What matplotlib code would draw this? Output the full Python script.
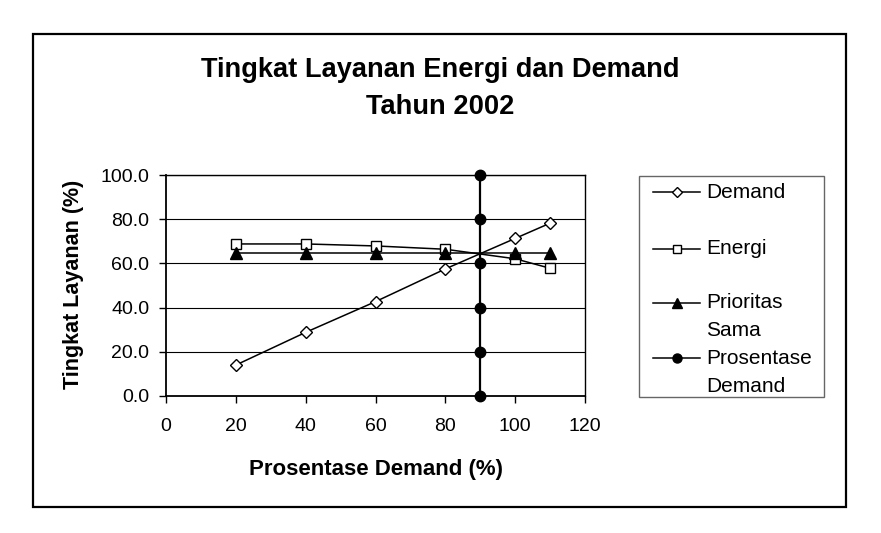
import matplotlib
matplotlib.use("Agg")
import matplotlib.pyplot as plt
from matplotlib.patches import Rectangle
from matplotlib.lines import Line2D

plt.rcParams['font.family'] = ['Liberation Sans', 'DejaVu Sans']

x_demand = [20, 40, 60, 80, 100, 110]
demand = [14.0, 28.8, 42.7, 57.5, 71.3, 78.2]
energi = [68.8, 68.8, 67.9, 66.4, 62.1, 57.8]
prioritas = [64.6, 64.6, 64.6, 64.6, 64.6, 64.6]
x_pros = [90, 90, 90, 90, 90, 90]
pros = [0, 20, 40, 60, 80, 100]

labels = ["Demand", "Energi", "Prioritas\nSama", "Prosentase\nDemand"]
title_lines = ["Tingkat Layanan Energi dan Demand", "Tahun 2002"]
xlabel = "Prosentase Demand (%)"
ylabel = "Tingkat Layanan (%)"
xticks = [0, 20, 40, 60, 80, 100, 120]
yticks = [0, 20, 40, 60, 80, 100]

W, H = 881, 533
fig = plt.figure(figsize=(W / 100, H / 100), dpi=100)
ax = fig.add_axes([166 / W, (H - 396) / H, (585 - 166) / W, (396 - 175) / H])

def fy(py):
    return (H - py) / H

def fx(px):
    return px / W

for yv in yticks[1:]:
    ax.axhline(yv, color='black', lw=0.8, zorder=1)

styles = [
    dict(marker='D', ms=6, mfc='white', mec='black', mew=1.0, lw=1.1),
    dict(marker='s', ms=7.5, mfc='white', mec='black', mew=1.0, lw=1.1),
    dict(marker='^', ms=8, mfc='black', mec='black', lw=1.1),
    dict(marker='o', ms=7.5, mfc='black', mec='black', lw=1.6),
]

ax.plot(x_demand, demand, color='black', zorder=3, **styles[0])
ax.plot(x_demand, energi, color='black', zorder=3, **styles[1])
ax.plot(x_demand, prioritas, color='black', zorder=3, **styles[2])
ax.plot(x_pros, pros, color='black', zorder=4, clip_on=False, **styles[3])

ax.set_xlim(0, 120)
ax.set_ylim(0, 100)
ax.set_xticks(xticks)
ax.set_yticks(yticks)
ax.set_yticklabels([f"{v:.1f}" for v in yticks])
ax.tick_params(axis='x', direction='out', length=5, width=1, pad=11, labelsize=14)
ax.tick_params(axis='y', direction='out', length=5, width=1, pad=7, labelsize=14)
for s in ax.spines.values():
    s.set_linewidth(1.0)
    s.set_color('black')
ax.spines['left'].set_linewidth(1.3)
ax.spines['bottom'].set_linewidth(1.3)

fig.text(fx(73), fy(284), ylabel, rotation=90, ha='center', va='center',
         fontsize=15.5, fontweight='bold')
fig.text(fx(376), fy(470), xlabel, ha='center', va='center',
         fontsize=16, fontweight='bold')
for ty, tl in zip([70, 107], title_lines):
    fig.text(fx(440), fy(ty), tl, ha='center', va='center',
             fontsize=19.6, fontweight='bold')

# legend (drawn manually to match the original layout)
fig.add_artist(Rectangle((fx(639), fy(397)), (824 - 639) / W, (397 - 176) / H,
                         transform=fig.transFigure, fill=False, ec='#666666', lw=1.0))
row_y = [192, 249, 303, 358]
line_gap = 28
leg_ms = [5, 5.5, 6.5, 6.5]
for i, (ry, lab) in enumerate(zip(row_y, labels)):
    st = dict(styles[i])
    st['ms'] = leg_ms[i]
    st['lw'] = 1.1
    fig.add_artist(Line2D([fx(653), fx(700)], [fy(ry), fy(ry)], color='black',
                          transform=fig.transFigure, markevery=[], **{k: v for k, v in st.items() if k not in ('marker', 'ms', 'mfc', 'mec', 'mew')}))
    fig.add_artist(Line2D([fx(676.5)], [fy(ry)], color='black', linestyle='none',
                          transform=fig.transFigure,
                          **{k: v for k, v in st.items() if k != 'lw'}))
    for j, part in enumerate(lab.split("\n")):
        fig.text(fx(706), fy(ry + j * line_gap), part, ha='left', va='center',
                 fontsize=15)

fig.add_artist(Rectangle((fx(33), fy(507)), (846 - 33) / W, (507 - 34) / H,
                         transform=fig.transFigure, fill=False, ec='black', lw=1.6))

fig.savefig("out.png", dpi=100)
